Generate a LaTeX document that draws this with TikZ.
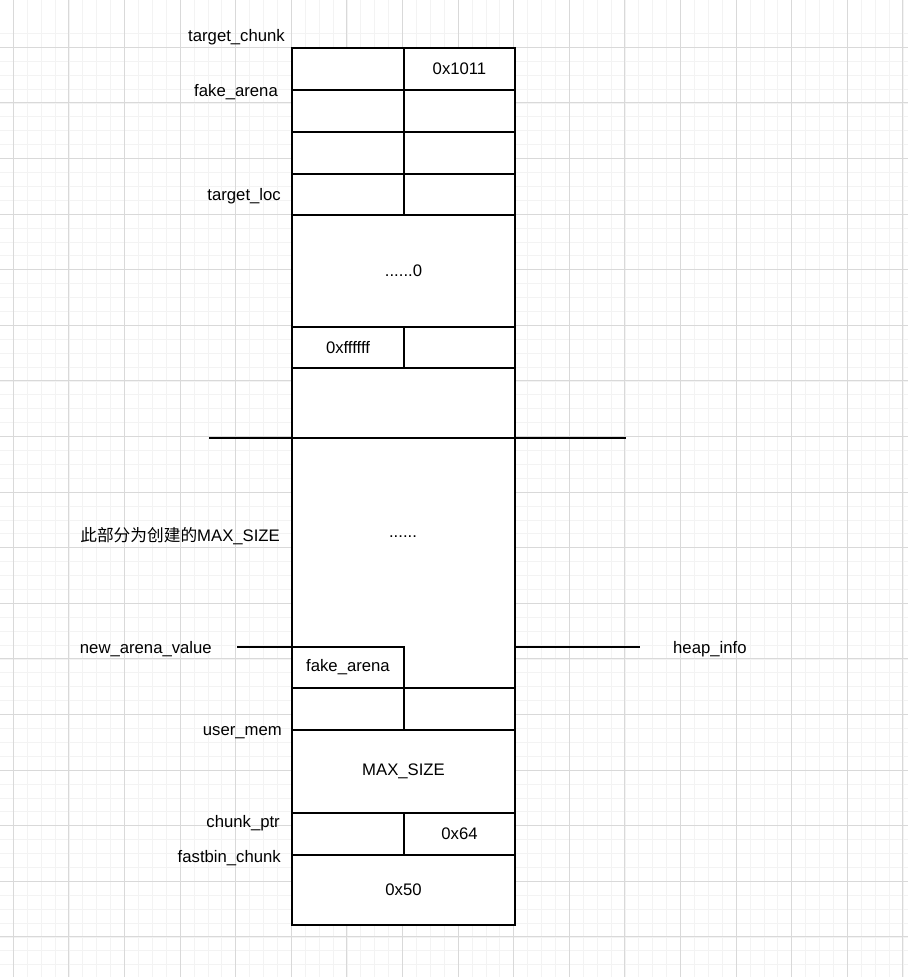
\documentclass[tikz,border=0pt]{standalone}
\usepackage{fontspec}
\setmainfont{Liberation Sans}
\newfontfamily\cjk{Noto Sans CJK SC}
\definecolor{majorgrid}{HTML}{D9D9D9}
\definecolor{minorgrid}{HTML}{F3F3F3}
\begin{document}
\begin{tikzpicture}[x=1pt,y=-1pt,
  font=\fontsize{16.7}{20}\selectfont,
  cell/.style={draw=black, line width=1.4pt, anchor=north west, inner sep=0pt, outer sep=0pt, fill=white},
  lbl/.style={anchor=east, inner sep=0pt, text=black},
  lblc/.style={inner sep=0pt, text=black},
  wire/.style={draw=black, line width=1.4pt},
  gminor/.style={draw=minorgrid, line width=0.7pt},
  gmajor/.style={draw=majorgrid, line width=0.9pt}]
\useasboundingbox (0,0) rectangle (908,977);
\fill[white] (0,0) rectangle (908,977);
% grid
\foreach \i in {-1,...,66} {
  \draw[gminor] ({13.3+13.9*\i},0) -- ({13.3+13.9*\i},977);
  \draw[gminor] (0,{47.3+13.9*\i}) -- (908,{47.3+13.9*\i});
}
\foreach \i in {-1,...,17} {
  \draw[gmajor] ({13.3+55.6*\i},0) -- ({13.3+55.6*\i},977);
  \draw[gmajor] (0,{47.3+55.6*\i}) -- (908,{47.3+55.6*\i});
}
% memory cells
\node[cell, minimum width=112pt, minimum height=42pt] (r1l) at (292,48) {};
\node[cell, minimum width=111pt, minimum height=42pt] (r1r) at (404,48) {0x1011};
\node[cell, minimum width=112pt, minimum height=42pt] (r2l) at (292,90) {};
\node[cell, minimum width=111pt, minimum height=42pt] (r2r) at (404,90) {};
\node[cell, minimum width=112pt, minimum height=42pt] (r3l) at (292,132) {};
\node[cell, minimum width=111pt, minimum height=42pt] (r3r) at (404,132) {};
\node[cell, minimum width=112pt, minimum height=41pt] (r4l) at (292,174) {};
\node[cell, minimum width=111pt, minimum height=41pt] (r4r) at (404,174) {};
\node[cell, minimum width=223pt, minimum height=112pt] (zero) at (292,215) {......0};
\node[cell, minimum width=112pt, minimum height=41pt] (r5l) at (292,327) {0xffffff};
\node[cell, minimum width=111pt, minimum height=41pt] (r5r) at (404,327) {};
\node[cell, minimum width=223pt, minimum height=70pt] (r6) at (292,368) {};
\node[cell, minimum width=223pt, minimum height=250pt] (heap) at (292,438) {};
\node[lblc] (dots) at (403,537) {......};
\node[cell, minimum width=112pt, minimum height=41pt] (fa) at (292,647) {fake\_arena};
\node[cell, minimum width=112pt, minimum height=42pt] (r7l) at (292,688) {};
\node[cell, minimum width=111pt, minimum height=42pt] (r7r) at (404,688) {};
\node[cell, minimum width=223pt, minimum height=83pt] (um) at (292,730) {MAX\_SIZE};
\node[cell, minimum width=112pt, minimum height=42pt] (r8l) at (292,813) {};
\node[cell, minimum width=111pt, minimum height=42pt] (r8r) at (404,813) {0x64};
\node[cell, minimum width=223pt, minimum height=70pt] (r9) at (292,855) {0x50};
% side labels
\node[lbl] (l1) at (285,37.5) {target\_chunk};
\node[lbl] (l2) at (278,92.5) {fake\_arena};
\node[lbl] (l3) at (281,196.5) {target\_loc};
\node[lbl] (l4) at (280,536) {{\cjk 此部分为创建的}MAX\_SIZE};
\node[lbl] (l5) at (212,649.5) {new\_arena\_value};
\node[lbl] (l6) at (282,732.5) {user\_mem};
\node[lbl] (l7) at (280,823.5) {chunk\_ptr};
\node[lbl] (l8) at (281,858.5) {fastbin\_chunk};
\node[lblc, anchor=west] (l9) at (673,649.5) {heap\_info};
% connectors
\coordinate (sepL) at (209,438);
\coordinate (sepR) at (626,438);
\draw[wire] (sepL) -- (sepR);
\coordinate (naL) at (237,647);
\draw[wire] (naL) -- (fa.north west);
\coordinate (hiR) at (640,647);
\draw[wire] (heap.east |- hiR) -- (hiR);
\end{tikzpicture}
\end{document}
